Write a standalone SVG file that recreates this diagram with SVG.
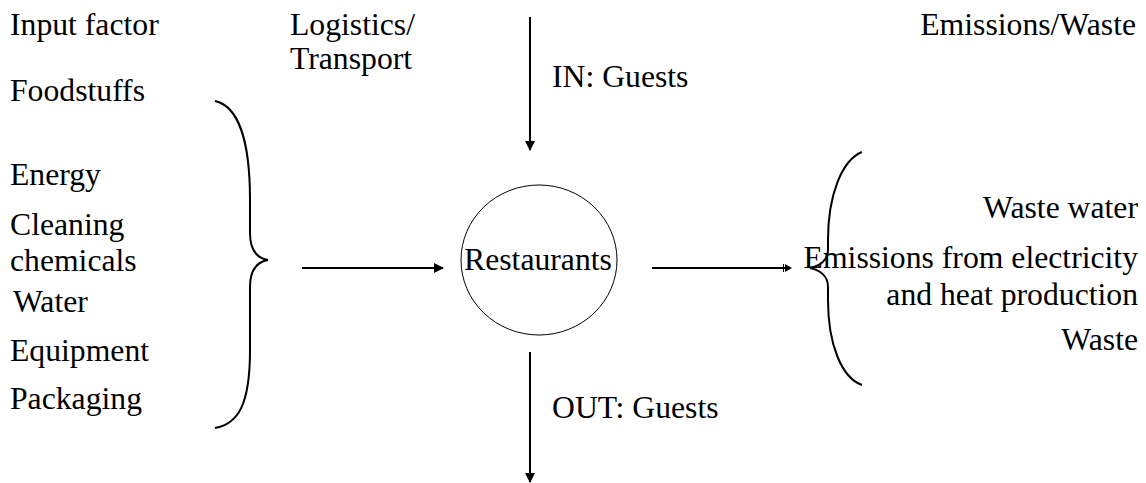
<svg xmlns="http://www.w3.org/2000/svg" width="1146" height="483" viewBox="0 0 1146 483">
  <style>
    text { font-family: 'Liberation Serif', 'Times New Roman', Times, serif; font-size: 31.7px; fill: #000; }
    .end { text-anchor: end; }
    .brace { fill: none; stroke: #000; stroke-width: 2; }
    .flow { fill: none; stroke: #000; stroke-width: 2; }
    .head { fill: #000; stroke: none; }
  </style>
  <defs>
    <marker id="arrow" markerWidth="10" markerHeight="10" refX="9" refY="5" orient="auto" markerUnits="userSpaceOnUse">
      <path d="M0,0 L10,5 L0,10 Z" class="head"/>
    </marker>
  </defs>

  <!-- column headings -->
  <g id="headings">
    <text x="10" y="35">Input factor</text>
    <text x="290" y="35">Logistics/</text>
    <text x="290" y="69">Transport</text>
    <text class="end" x="1136" y="35">Emissions/Waste</text>
  </g>

  <!-- input factors -->
  <g id="inputs">
    <text x="10" y="101">Foodstuffs</text>
    <text x="10" y="185">Energy</text>
    <text x="10" y="235">Cleaning</text>
    <text x="10" y="271">chemicals</text>
    <text x="13" y="312">Water</text>
    <text x="10" y="361">Equipment</text>
    <text x="10" y="409">Packaging</text>
    <path class="brace" d="M215,101 C238,106 250,140 250,200 L250,233 C250,250 256,258 268,260 C256,262 250,270 250,287 L250,350 C250,405 238,424 215,428"/>
  </g>

  <!-- central node -->
  <g id="restaurants">
    <ellipse cx="539" cy="260" rx="78" ry="75" fill="none" stroke="#000" stroke-width="1"/>
    <text x="538" y="270" text-anchor="middle">Restaurants</text>
  </g>

  <!-- outputs -->
  <g id="outputs">
    <path class="brace" d="M862,152 C842,160 828,195 828,240 L828,250 C828,260 820,266 810,268 C820,270 828,276 828,287 L828,300 C828,345 842,378 862,385"/>
    <text class="end" x="1138" y="218">Waste water</text>
    <text class="end" x="1138" y="268">Emissions from electricity</text>
    <text class="end" x="1138" y="305">and heat production</text>
    <text class="end" x="1138" y="350">Waste</text>
  </g>

  <!-- guest flow labels -->
  <g id="guests">
    <text x="552" y="87">IN: Guests</text>
    <text x="552" y="418">OUT: Guests</text>
  </g>

  <!-- connectors -->
  <g id="connectors">
    <line class="flow" x1="530" y1="17" x2="530" y2="150" marker-end="url(#arrow)"/>
    <line class="flow" x1="530" y1="352" x2="530" y2="482" marker-end="url(#arrow)"/>
    <line class="flow" x1="302" y1="268" x2="443" y2="268" marker-end="url(#arrow)"/>
    <line class="flow" x1="652" y1="268" x2="785" y2="268"/>
    <line x1="783.5" y1="264" x2="783.5" y2="272" stroke="#000" stroke-width="1"/>
    <path class="head" d="M785,264 L792,268 L785,272 Z"/>
  </g>
</svg>
